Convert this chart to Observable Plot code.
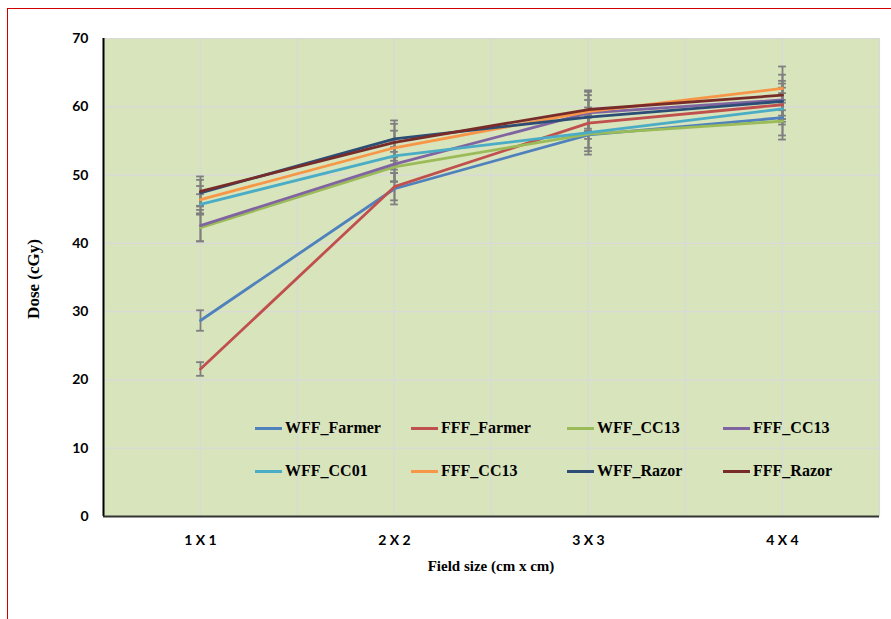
<!DOCTYPE html>
<html>
<head>
<meta charset="utf-8">
<script src="https://cdn.jsdelivr.net/npm/d3@7"></script>
<script src="https://cdn.jsdelivr.net/npm/@observablehq/plot@0.6"></script>
<style>
  body { margin: 0; background: #fff; }
  #wrap { position: relative; width: 891px; height: 619px; overflow: hidden; }
  #border { position: absolute; left: 7px; top: 8px; width: 1000px; height: 1000px;
            border-top: 1.5px solid #d00000; border-left: 1.5px solid #d00000; pointer-events: none; }
  .ylab { position: absolute; left: 34px; top: 279px; transform: translate(-50%, -50%) rotate(-90deg);
          font: bold 17px "Liberation Serif", serif; white-space: nowrap; color: #000; }
  .xlab { position: absolute; left: 491px; top: 566px; transform: translate(-50%, -50%);
          font: bold 15px "Liberation Serif", serif; white-space: nowrap; color: #000; }
  #legend { position: absolute; left: 255px; top: 416px; display: grid;
            grid-template-columns: repeat(4, 156px); grid-auto-rows: 43px; }
  .item { display: flex; align-items: center; height: 24px; font: bold 16px "Liberation Serif", serif; color: #000; white-space: nowrap; }
  .sw { width: 27px; height: 3px; margin-right: 3px; }
</style>
</head>
<body>
<div id="wrap">
  <div id="chart"></div>
  <div id="border"></div>
  <div class="ylab">Dose (cGy)</div>
  <div class="xlab">Field size (cm x cm)</div>
  <div id="legend"></div>
</div>
<script>
const categories = ["1 X 1", "2 X 2", "3 X 3", "4 X 4"];
const yTicks = [0, 10, 20, 30, 40, 50, 60, 70];
const seriesNames = ["WFF_Farmer", "FFF_Farmer", "WFF_CC13", "FFF_CC13", "WFF_CC01", "FFF_CC13", "WFF_Razor", "FFF_Razor"];
const seriesColors = ["#4f81bd", "#c0504d", "#9bbb59", "#8064a2", "#4bacc6", "#f79646", "#2c4d75", "#772c2a"];

const wffFarmer = [28.7, 48.0, 55.9, 58.4];
const fffFarmer = [21.6, 48.3, 57.6, 60.3];
const wffCC13   = [42.3, 51.2, 56.0, 57.9];
const fffCC13a  = [42.6, 51.6, 59.1, 61.0];
const wffCC01   = [45.7, 52.8, 56.2, 59.7];
const fffCC13b  = [46.4, 54.0, 59.3, 62.7];
const wffRazor  = [47.4, 55.3, 58.5, 60.8];
const fffRazor  = [47.6, 54.8, 59.6, 61.7];

const errWffFarmer = [1.5, 2.3, 2.9, 2.6];
const errFffFarmer = [1.0, 2.0, 2.3, 2.5];
const errWffCC13   = [2.0, 2.2, 2.5, 2.7];
const errFffCC13a  = [2.3, 2.5, 2.6, 2.8];
const errWffCC01   = [1.5, 2.0, 2.2, 2.3];
const errFffCC13b  = [2.0, 2.5, 2.9, 3.2];
const errWffRazor  = [1.9, 2.7, 2.5, 2.6];
const errFffRazor  = [2.2, 2.7, 2.8, 3.0];

const seriesValues = [wffFarmer, fffFarmer, wffCC13, fffCC13a, wffCC01, fffCC13b, wffRazor, fffRazor];
const seriesErrors = [errWffFarmer, errFffFarmer, errWffCC13, errFffCC13a, errWffCC01, errFffCC13b, errWffRazor, errFffRazor];

const rows = [];
seriesNames.forEach((name, s) => {
  categories.forEach((c, i) => {
    rows.push({sid: s, name, color: seriesColors[s], x: i + 1, y: seriesValues[s][i], err: seriesErrors[s][i]});
  });
});
const xGrid = d3.range(0.5, 4.51, 0.5);
const capHalf = 0.02;

const chart = Plot.plot({
  width: 891,
  height: 619,
  marginLeft: 103,
  marginRight: 12,
  marginTop: 38,
  marginBottom: 103,
  style: {fontFamily: "Lato, sans-serif", fontSize: "14px", fontWeight: "bold", color: "#000", background: "transparent"},
  color: {type: "identity"},
  x: {domain: [0.5, 4.5], ticks: [1, 2, 3, 4], tickFormat: d => categories[d - 1], tickSize: 0, tickPadding: 19, label: null},
  y: {domain: [0, 70], ticks: yTicks, tickSize: 0, tickPadding: 15, label: null},
  marks: [
    Plot.frame({fill: "#d8e4bc", stroke: "none"}),
    Plot.ruleY(yTicks, {stroke: "#d9d9d9", strokeWidth: 1.2}),
    Plot.ruleX(xGrid, {stroke: "#d9d9d9", strokeWidth: 1.2}),
    Plot.ruleX(rows, {x: "x", y1: d => d.y - d.err, y2: d => d.y + d.err, stroke: "#7f7f7f", strokeWidth: 1.8}),
    Plot.ruleY(rows, {y: d => d.y - d.err, x1: d => d.x - capHalf, x2: d => d.x + capHalf, stroke: "#7f7f7f", strokeWidth: 1.8}),
    Plot.ruleY(rows, {y: d => d.y + d.err, x1: d => d.x - capHalf, x2: d => d.x + capHalf, stroke: "#7f7f7f", strokeWidth: 1.8}),
    Plot.line(rows, {x: "x", y: "y", z: "sid", stroke: "color", strokeWidth: 2.8}),
    Plot.ruleX([0.5], {stroke: "#000", strokeWidth: 2}),
    Plot.ruleY([0], {stroke: "#333", strokeWidth: 2})
  ]
});
document.getElementById("chart").appendChild(chart);

const legend = document.getElementById("legend");
seriesNames.forEach((name, s) => {
  const item = document.createElement("div");
  item.className = "item";
  const sw = document.createElement("span");
  sw.className = "sw";
  sw.style.background = seriesColors[s];
  item.appendChild(sw);
  item.appendChild(document.createTextNode(name));
  legend.appendChild(item);
});
</script>
</body>
</html>
